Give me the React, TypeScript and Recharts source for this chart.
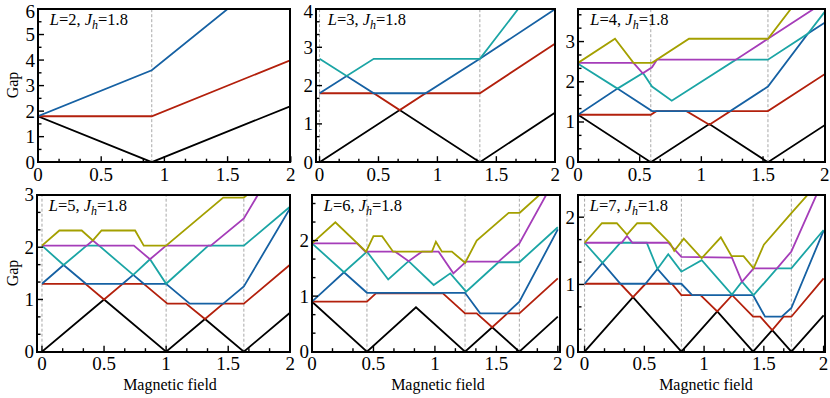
import React from "react";
import { LineChart, Line, XAxis, YAxis, ReferenceLine } from "recharts";

type Pt = [number, number];

const COLORS = {
  black: "#000000",
  red: "#b3200c",
  blue: "#1661a3",
  teal: "#1ba5a5",
  purple: "#a53db9",
  olive: "#a4a000",
};

const FONT = '"Liberation Serif", "Times New Roman", serif';

// tick labels
const X_TICK_LABELS = [0, 0.5, 1, 1.5, 2];
const Y_LABELS_L2 = [0, 1, 2, 3, 4, 5, 6];
const Y_LABELS_L3 = [0, 1, 2, 3, 4];
const Y_LABELS_L4 = [0, 1, 2, 3];
const Y_LABELS_L5 = [0, 1, 2, 3];
const Y_LABELS_L6 = [0, 1, 2];
const Y_LABELS_L7 = [0, 1, 2];

// L = 2
const L2_BLACK: Pt[] = [[0, 1.8], [0.9, 0], [2, 2.2]];
const L2_RED: Pt[] = [[0, 1.8], [0.9, 1.8], [2, 4.0]];
const L2_BLUE: Pt[] = [[0, 1.8], [0.9, 3.6], [2, 8.0]];
const L2_FIELDS = [0.9];

// L = 3
const L3_BLACK: Pt[] = [[0, 0], [0.68, 1.36], [1.36, 0], [2, 1.3]];
const L3_RED: Pt[] = [[0, 1.8], [0.46, 1.8], [0.68, 1.36], [0.9, 1.8], [1.36, 1.8], [2, 3.1]];
const L3_BLUE: Pt[] = [[0, 1.8], [0.23, 2.25], [0.46, 1.8], [0.9, 1.8], [1.36, 2.7], [2, 4.0]];
const L3_TEAL: Pt[] = [[0, 2.7], [0.23, 2.25], [0.46, 2.7], [1.36, 2.7], [2, 5.26]];
const L3_FIELDS = [0, 1.36];

// L = 4
const L4_BLACK: Pt[] = [[0, 1.18], [0.59, 0], [1.065, 0.95], [1.54, 0], [2, 0.92]];
const L4_RED: Pt[] = [[0, 1.18], [0.59, 1.18], [0.635, 1.27], [0.88, 1.27], [1.065, 0.93], [1.235, 1.27], [1.54, 1.27], [2, 2.19]];
const L4_BLUE: Pt[] = [[0, 1.18], [0.32, 1.83], [0.6, 1.27], [1.235, 1.27], [1.54, 1.88], [1.865, 3.2], [2, 3.47]];
const L4_TEAL: Pt[] = [[0, 2.45], [0.32, 1.83], [0.527, 2.22], [0.6, 1.88], [0.76, 1.53], [1.28, 2.55], [1.54, 2.55], [1.865, 3.2], [2, 3.74]];
const L4_PURPLE: Pt[] = [[0, 2.47], [0.45, 2.47], [0.525, 2.21], [0.6, 2.36], [0.64, 2.55], [1.28, 2.55], [1.54, 3.07], [2, 3.99]];
const L4_OLIVE: Pt[] = [[0, 2.47], [0.3, 3.07], [0.45, 2.47], [0.6, 2.47], [0.9, 3.07], [1.54, 3.07], [2, 4.91]];
const L4_FIELDS = [0.59, 1.54];

// L = 5
const L5_BLACK: Pt[] = [[0, 0], [0.5, 1.0], [1.0, 0], [1.313, 0.626], [1.626, 0], [2, 0.75]];
const L5_RED: Pt[] = [[0, 1.3], [0.35, 1.3], [0.5, 1.0], [0.65, 1.3], [0.82, 1.3], [1.01, 0.92], [1.16, 0.92], [1.313, 0.626], [1.46, 0.92], [1.626, 0.92], [2, 1.67]];
const L5_BLUE: Pt[] = [[0, 1.3], [0.174, 1.66], [0.354, 1.3], [0.65, 1.3], [0.735, 1.47], [0.82, 1.3], [1.0, 1.3], [1.19, 0.92], [1.46, 0.92], [1.626, 1.25], [2, 2.75]];
const L5_TEAL: Pt[] = [[0, 2.03], [0.174, 1.66], [0.36, 2.03], [0.46, 2.03], [0.735, 1.47], [0.87, 1.77], [1.0, 1.3], [1.34, 2.03], [1.626, 2.03], [2, 2.78]];
const L5_PURPLE: Pt[] = [[0, 2.03], [0.36, 2.03], [0.41, 2.13], [0.46, 2.03], [0.74, 2.03], [0.87, 1.77], [1.0, 2.03], [1.36, 2.03], [1.626, 2.55], [2, 4.05]];
const L5_OLIVE: Pt[] = [[0, 2.03], [0.14, 2.32], [0.32, 2.32], [0.41, 2.13], [0.48, 2.32], [0.75, 2.32], [0.82, 2.03], [1.0, 2.03], [1.46, 2.95], [1.626, 2.95], [2, 3.7]];
const L5_FIELDS = [0, 1.0, 1.626];

// L = 6
const L6_BLACK: Pt[] = [[0, 0.9], [0.447, 0], [0.846, 0.8], [1.245, 0], [1.466, 0.44], [1.687, 0], [2, 0.63]];
const L6_RED: Pt[] = [[0, 0.9], [0.447, 0.9], [0.52, 1.05], [1.065, 1.05], [1.245, 0.69], [1.34, 0.69], [1.466, 0.44], [1.59, 0.69], [1.687, 0.69], [2, 1.32]];
const L6_BLUE: Pt[] = [[0, 0.9], [0.26, 1.43], [0.447, 1.06], [1.245, 1.06], [1.368, 0.69], [1.585, 0.69], [1.687, 0.9], [2, 2.2]];
const L6_TEAL: Pt[] = [[0, 1.95], [0.26, 1.43], [0.447, 1.8], [0.62, 1.3], [0.786, 1.63], [0.99, 1.2], [1.125, 1.41], [1.254, 1.08], [1.517, 1.61], [1.687, 1.61], [2, 2.24]];
const L6_PURPLE: Pt[] = [[0, 1.95], [0.366, 1.95], [0.433, 1.8], [0.677, 1.8], [0.786, 1.63], [0.894, 1.8], [1.03, 1.8], [1.15, 1.41], [1.254, 1.62], [1.517, 1.62], [1.687, 1.95], [2, 3.2]];
const L6_OLIVE: Pt[] = [[0, 1.95], [0.19, 2.33], [0.44, 1.8], [0.5, 2.08], [0.57, 2.08], [0.66, 1.8], [0.976, 1.8], [1.008, 1.98], [1.057, 1.8], [1.138, 1.8], [1.246, 1.6], [1.34, 2.0], [1.6, 2.5], [1.69, 2.5], [2, 3.12]];
const L6_FIELDS = [0.447, 1.245, 1.687];

// L = 7
const L7_BLACK: Pt[] = [[0, 0], [0.405, 0.81], [0.81, 0], [1.11, 0.6], [1.41, 0], [1.57, 0.32], [1.73, 0], [2, 0.54]];
const L7_RED: Pt[] = [[0, 1.01], [0.3, 1.01], [0.405, 0.81], [0.51, 1.01], [0.73, 1.01], [0.81, 0.84], [0.97, 0.84], [1.11, 0.6], [1.235, 0.84], [1.41, 0.52], [1.47, 0.52], [1.57, 0.32], [1.665, 0.52], [1.73, 0.52], [2, 1.09]];
const L7_BLUE: Pt[] = [[0, 1.01], [0.15, 1.32], [0.3, 1.01], [0.51, 1.01], [0.61, 1.23], [0.72, 1.01], [0.81, 1.01], [0.9, 0.84], [1.41, 0.84], [1.51, 0.52], [1.65, 0.52], [1.73, 0.65], [2, 1.8]];
const L7_TEAL: Pt[] = [[0, 1.62], [0.15, 1.32], [0.3, 1.62], [0.52, 1.62], [0.61, 1.23], [0.7, 1.45], [0.81, 1.19], [0.98, 1.36], [1.233, 0.85], [1.317, 1.04], [1.414, 0.84], [1.61, 1.24], [1.73, 1.24], [2, 1.81]];
const L7_PURPLE: Pt[] = [[0, 1.62], [0.31, 1.62], [0.355, 1.72], [0.4, 1.62], [0.7, 1.62], [0.81, 1.41], [1.233, 1.4], [1.317, 1.04], [1.414, 1.24], [1.61, 1.24], [1.73, 1.49], [2, 2.57]];
const L7_OLIVE: Pt[] = [[0, 1.62], [0.145, 1.91], [0.27, 1.91], [0.355, 1.74], [0.44, 1.91], [0.55, 1.91], [0.717, 1.61], [0.75, 1.5], [0.83, 1.68], [0.98, 1.39], [1.14, 1.7], [1.23, 1.42], [1.33, 1.42], [1.414, 1.24], [1.5, 1.59], [1.73, 2.06], [2, 2.6]];
const L7_FIELDS = [0, 0.81, 1.41, 1.73];

type Series = { color: string; pts: Pt[] };

interface PanelDef {
  L: number;
  box: { left: number; right: number; top: number; bottom: number };
  xDomain: [number, number];
  yDomain: [number, number];
  yLabels: number[];
  yMinor: number;
  fields: number[];
  series: Series[];
}

const PANELS: PanelDef[] = [
  {
    L: 2,
    box: { left: 37.7, right: 290.5, top: 8.5, bottom: 161.7 },
    xDomain: [0, 2],
    yDomain: [0, 6],
    yLabels: Y_LABELS_L2,
    yMinor: 0.5,
    fields: L2_FIELDS,
    series: [
      { color: COLORS.black, pts: L2_BLACK },
      { color: COLORS.red, pts: L2_RED },
      { color: COLORS.blue, pts: L2_BLUE },
    ],
  },
  {
    L: 3,
    box: { left: 315.7, right: 555, top: 8.5, bottom: 161.7 },
    xDomain: [-0.03, 2],
    yDomain: [0, 4],
    yLabels: Y_LABELS_L3,
    yMinor: 1 / 3,
    fields: L3_FIELDS,
    series: [
      { color: COLORS.black, pts: L3_BLACK },
      { color: COLORS.red, pts: L3_RED },
      { color: COLORS.blue, pts: L3_BLUE },
      { color: COLORS.teal, pts: L3_TEAL },
    ],
  },
  {
    L: 4,
    box: { left: 578.3, right: 825, top: 8.5, bottom: 161.7 },
    xDomain: [0, 2],
    yDomain: [0, 3.81],
    yLabels: Y_LABELS_L4,
    yMinor: 1 / 3,
    fields: L4_FIELDS,
    series: [
      { color: COLORS.black, pts: L4_BLACK },
      { color: COLORS.red, pts: L4_RED },
      { color: COLORS.blue, pts: L4_BLUE },
      { color: COLORS.teal, pts: L4_TEAL },
      { color: COLORS.purple, pts: L4_PURPLE },
      { color: COLORS.olive, pts: L4_OLIVE },
    ],
  },
  {
    L: 5,
    box: { left: 36.7, right: 290, top: 195, bottom: 351.7 },
    xDomain: [-0.04, 2],
    yDomain: [0, 3],
    yLabels: Y_LABELS_L5,
    yMinor: 1 / 3,
    fields: L5_FIELDS,
    series: [
      { color: COLORS.black, pts: L5_BLACK },
      { color: COLORS.red, pts: L5_RED },
      { color: COLORS.blue, pts: L5_BLUE },
      { color: COLORS.teal, pts: L5_TEAL },
      { color: COLORS.purple, pts: L5_PURPLE },
      { color: COLORS.olive, pts: L5_OLIVE },
    ],
  },
  {
    L: 6,
    box: { left: 311.7, right: 560, top: 195, bottom: 351.7 },
    xDomain: [0, 2.02],
    yDomain: [0, 2.82],
    yLabels: Y_LABELS_L6,
    yMinor: 1 / 3,
    fields: L6_FIELDS,
    series: [
      { color: COLORS.black, pts: L6_BLACK },
      { color: COLORS.red, pts: L6_RED },
      { color: COLORS.blue, pts: L6_BLUE },
      { color: COLORS.teal, pts: L6_TEAL },
      { color: COLORS.purple, pts: L6_PURPLE },
      { color: COLORS.olive, pts: L6_OLIVE },
    ],
  },
  {
    L: 7,
    box: { left: 577.7, right: 825, top: 195, bottom: 351.7 },
    xDomain: [-0.055, 2.014],
    yDomain: [0, 2.33],
    yLabels: Y_LABELS_L7,
    yMinor: 1 / 3,
    fields: L7_FIELDS,
    series: [
      { color: COLORS.black, pts: L7_BLACK },
      { color: COLORS.red, pts: L7_RED },
      { color: COLORS.blue, pts: L7_BLUE },
      { color: COLORS.teal, pts: L7_TEAL },
      { color: COLORS.purple, pts: L7_PURPLE },
      { color: COLORS.olive, pts: L7_OLIVE },
    ],
  },
];

const YW = 40;
const XH = 30;
const MT = 14;
const MR = 6;
const TICK_FONT = 19;

function steps(lo: number, hi: number, step: number) {
  const out: number[] = [];
  for (let v = lo; v <= hi + 1e-6; v += step) out.push(+v.toFixed(4));
  return out;
}

function isIn(v: number, list: number[]) {
  return list.some((m) => Math.abs(m - v) < 1e-3);
}

function Panel({ p }: { p: PanelDef }) {
  const w = p.box.right - p.box.left + YW + MR;
  const h = p.box.bottom - p.box.top + MT + XH;
  const xTicks = steps(0, 2, 1 / 6);
  const yTicks = steps(0, p.yDomain[1], p.yMinor);
  // svg y that corresponds to page y = 11 (keeps the top label inside the page)
  const minLabelY = 11 - (p.box.top - MT);

  const xTick = (props: any) => {
    const { x, y, payload } = props;
    const major = isIn(payload.value, X_TICK_LABELS);
    return (
      <g>
        <line x1={x} x2={x} y1={y} y2={y - (major ? 6 : 3.5)} stroke="#000" strokeWidth={1.4} />
        {major && (
          <text x={x} y={y + 12} textAnchor="middle" dominantBaseline="central" fontSize={TICK_FONT} fontFamily={FONT} fill="#000">
            {String(payload.value)}
          </text>
        )}
      </g>
    );
  };

  const yTick = (props: any) => {
    const { x, y, payload } = props;
    const major = isIn(payload.value, p.yLabels);
    return (
      <g>
        <line x1={x} x2={x + (major ? 6 : 3.5)} y1={y} y2={y} stroke="#000" strokeWidth={1.4} />
        {major && (
          <text
            x={x - 3}
            y={Math.max(y, minLabelY)}
            textAnchor="end"
            dominantBaseline="central"
            fontSize={TICK_FONT}
            fontFamily={FONT}
            fill="#000"
          >
            {String(payload.value)}
          </text>
        )}
      </g>
    );
  };

  return (
    <>
      <div style={{ position: "absolute", left: p.box.left - YW, top: p.box.top - MT }}>
        <LineChart width={w} height={h} margin={{ top: MT, right: MR, bottom: 0, left: 0 }}>
          <XAxis
            type="number"
            dataKey="x"
            domain={p.xDomain}
            allowDataOverflow
            ticks={xTicks}
            interval={0}
            tickSize={0}
            tickMargin={0}
            tickLine={false}
            axisLine={false}
            height={XH}
            tick={xTick}
          />
          <YAxis
            type="number"
            domain={p.yDomain}
            allowDataOverflow
            ticks={yTicks}
            interval={0}
            tickSize={0}
            tickMargin={0}
            tickLine={false}
            axisLine={false}
            width={YW}
            tick={yTick}
          />
          {p.fields.map((v) => (
            <ReferenceLine key={v} x={v} stroke="#a8a8a8" strokeDasharray="3 2" strokeWidth={1} />
          ))}
          {p.series.map((s, i) => (
            <Line
              key={i}
              data={s.pts.map(([x, y]) => ({ x, y }))}
              dataKey="y"
              stroke={s.color}
              strokeWidth={1.8}
              dot={false}
              activeDot={false}
              isAnimationActive={false}
            />
          ))}
        </LineChart>
      </div>
      <div
        style={{
          position: "absolute",
          left: p.box.left - 1,
          top: p.box.top - 1,
          width: p.box.right - p.box.left - 2,
          height: p.box.bottom - p.box.top - 2,
          border: "2px solid #000",
          pointerEvents: "none",
        }}
      />
      <div
        style={{
          position: "absolute",
          left: p.box.left + 12,
          top: p.box.top + 3,
          fontFamily: FONT,
          fontSize: 16.5,
          lineHeight: "16px",
          whiteSpace: "nowrap",
        }}
      >
        <i>L</i>={p.L}, <i>J</i>
        <sub style={{ fontSize: 12, verticalAlign: "-4px", lineHeight: 0 }}>
          <i>h</i>
        </sub>
        =1.8
      </div>
    </>
  );
}

const textBase: React.CSSProperties = {
  position: "absolute",
  fontFamily: FONT,
  fontSize: 16,
  whiteSpace: "nowrap",
  transform: "translate(-50%, -50%)",
};

export default function App() {
  return (
    <div style={{ position: "absolute", left: 0, top: 0, width: 830, height: 398, background: "#fff", overflow: "hidden" }}>
      {PANELS.map((p) => (
        <Panel key={p.L} p={p} />
      ))}
      <div style={{ ...textBase, left: 13, top: 85, transform: "translate(-50%, -50%) rotate(-90deg)" }}>Gap</div>
      <div style={{ ...textBase, left: 13, top: 273, transform: "translate(-50%, -50%) rotate(-90deg)" }}>Gap</div>
      <div style={{ ...textBase, left: 170, top: 385 }}>Magnetic field</div>
      <div style={{ ...textBase, left: 438, top: 385 }}>Magnetic field</div>
      <div style={{ ...textBase, left: 706, top: 385 }}>Magnetic field</div>
    </div>
  );
}
